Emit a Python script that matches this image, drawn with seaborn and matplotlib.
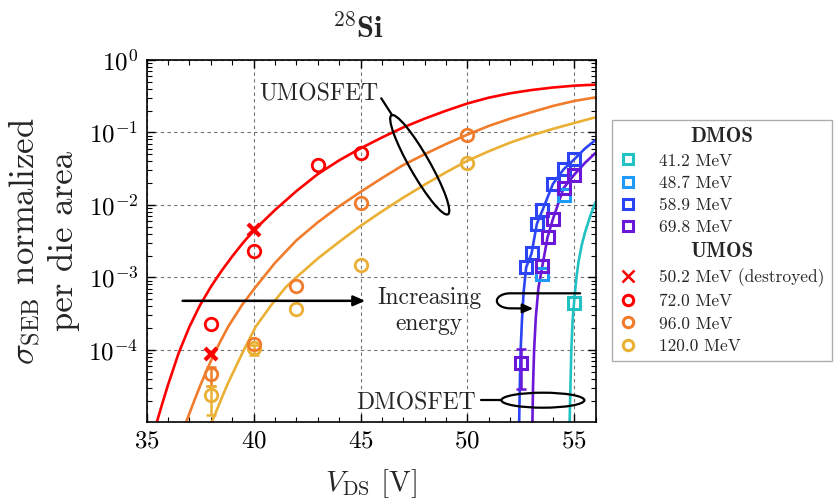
import numpy as np
import pandas as pd
import matplotlib
matplotlib.use("Agg")
import matplotlib.pyplot as plt
import seaborn as sns
from matplotlib.lines import Line2D
from matplotlib.patches import Ellipse, FancyArrowPatch
from matplotlib.path import Path
from matplotlib.transforms import ScaledTranslation, Affine2D
from matplotlib.ticker import LogLocator, MultipleLocator, NullFormatter
from matplotlib.font_manager import FontProperties

# ---------------- data ----------------
# UMOS measurements
u50_x = [38, 40]                      # 50.2 MeV (destroyed)
u50_y = [8.7e-5, 4.5e-3]
u72_x = [38, 40, 43, 45]
u72_y = [2.25e-4, 2.3e-3, 3.5e-2, 5.25e-2]
u96_x = [38, 40, 42, 45, 50]
u96_y = [4.6e-5, 1.2e-4, 7.6e-4, 1.07e-2, 9.2e-2]
u120_x = [38, 40, 42, 45, 50]
u120_y = [2.35e-5, 1.05e-4, 3.7e-4, 1.48e-3, 3.8e-2]
# error bars: x, y, low, high
u96_err_x = [38]
u96_err_y = [4.6e-5]
u96_err_lo = [3.2e-5]
u96_err_hi = [5.8e-5]
u120_err_x = [38, 40]
u120_err_y = [2.35e-5, 1.05e-4]
u120_err_lo = [1.28e-5, 8.5e-5]
u120_err_hi = [3.2e-5, 1.15e-4]

# DMOS measurements
d41_x = [55.0]
d41_y = [4.4e-4]
d48_x = [53.5, 54.5]
d48_y = [1.1e-3, 1.38e-2]
d58_x = [52.75, 53.0, 53.25, 53.5, 54.0, 54.5, 55.0]
d58_y = [1.38e-3, 2.15e-3, 5.5e-3, 8.4e-3, 1.97e-2, 3.1e-2, 4.27e-2]
d69_x = [52.5, 53.5, 53.75, 54.0, 54.5, 55.0]
d69_y = [6.5e-5, 1.42e-3, 3.6e-3, 6.4e-3, 1.71e-2, 2.62e-2]
d69_err_x = [52.5]
d69_err_y = [6.5e-5]
d69_err_lo = [2.85e-5]
d69_err_hi = [1.02e-4]

# fitted curves
fit72_x = [35.47, 35.75, 36.0, 36.5, 37.0, 37.5, 38.0, 38.5, 39.0, 39.5, 40.0, 41, 42,
           43, 44, 45, 46, 47, 48, 49, 50, 51, 52, 53, 54, 55, 56]
fit72_y = [1.0e-5, 1.905e-5, 3.31e-5, 9.12e-5, 2.09e-4, 4.17e-4, 7.41e-4, 1.23e-3,
           1.95e-3, 2.99e-3, 4.42e-3, 8.51e-3, 1.55e-2, 2.66e-2, 4.12e-2, 6.03e-2,
           8.51e-2, 0.1175, 0.155, 0.1995, 0.251, 0.302, 0.347, 0.385, 0.417, 0.442,
           0.457]
fit96_x = [36.84, 37.2, 37.52, 38.17, 38.81, 39.46, 40.1, 41, 42, 43, 44, 45, 46, 47,
           48, 49, 50, 51, 52, 53, 54, 55, 56]
fit96_y = [1.0e-5, 1.905e-5, 3.31e-5, 9.12e-5, 2.09e-4, 4.17e-4, 7.41e-4, 1.585e-3,
           3.24e-3, 5.75e-3, 9.55e-3, 1.51e-2, 2.34e-2, 3.55e-2, 5.01e-2, 6.92e-2,
           9.33e-2, 0.123, 0.155, 0.1905, 0.232, 0.272, 0.305]
fit120_x = [38.04, 38.43, 38.77, 39.48, 40.1, 40.83, 41.52, 42, 43, 44, 45, 46, 47, 48,
            49, 50, 51, 52, 53, 54, 55, 56]
fit120_y = [1.0e-5, 1.905e-5, 3.31e-5, 9.12e-5, 2.09e-4, 4.17e-4, 7.41e-4, 1.0e-3,
            1.82e-3, 3.09e-3, 5.13e-3, 8.13e-3, 1.26e-2, 1.905e-2, 2.82e-2, 4.07e-2,
            5.5e-2, 7.24e-2, 9.12e-2, 0.112, 0.135, 0.162]
fit41_x = [54.78, 54.82, 54.86, 54.92, 55.0, 55.1, 55.2, 55.35, 55.5, 55.75, 56.0]
fit41_y = [1.0e-5, 3.16e-5, 1.0e-4, 2.51e-4, 5.01e-4, 1.0e-3, 1.66e-3, 2.82e-3,
           4.17e-3, 7.08e-3, 1.1e-2]
fit58_x = [52.42, 52.45, 52.49, 52.55, 52.63, 52.75, 53.0, 53.25, 53.5, 54.0, 54.5,
           55.0, 55.5, 56.0]
fit58_y = [1.0e-5, 3.16e-5, 1.0e-4, 2.51e-4, 6.31e-4, 1.38e-3, 2.14e-3, 5.5e-3,
           8.3e-3, 1.95e-2, 3.1e-2, 4.27e-2, 6.0e-2, 7.9e-2]
fit69_x = [53.04, 53.07, 53.12, 53.2, 53.32, 53.5, 53.75, 54.0, 54.5, 55.0, 55.5, 56.0]
fit69_y = [1.0e-5, 3.16e-5, 1.0e-4, 2.82e-4, 7.08e-4, 1.41e-3, 3.6e-3, 6.4e-3,
           1.71e-2, 2.62e-2, 3.8e-2, 5.25e-2]

dmos_labels = ["41.2 MeV", "48.7 MeV", "58.9 MeV", "69.8 MeV"]
umos_labels = ["50.2 MeV (destroyed)", "72.0 MeV", "96.0 MeV", "120.0 MeV"]

# ---------------- style ----------------
C_RED = "#FF0000"
C_ORA = "#F07C2C"
C_YEL = "#EAB034"
C_CYA = "#22C1C3"
C_LBL = "#1E9BFA"
C_BLU = "#2B44F5"
C_PUR = "#6B17D8"

sns.set_theme(style="ticks")
plt.rcParams["font.family"] = "serif"
plt.rcParams["font.serif"] = ["cmr10"]
plt.rcParams["mathtext.fontset"] = "cm"
plt.rcParams["axes.formatter.use_mathtext"] = True
plt.rcParams["axes.unicode_minus"] = False

fig = plt.figure(figsize=(8.35, 4.99), dpi=100)
ax = fig.add_axes([0.1757, 0.1549, 0.5377, 0.7249])

LW = 1.9


def curve(x, y, c):
    sns.lineplot(x=x, y=y, ax=ax, color=c, lw=LW, estimator=None, sort=False, zorder=2)


def pts(x, y, c, m, ms=9, mew=2.0, z=4):
    sns.lineplot(x=x, y=y, ax=ax, color=c, marker=m, linestyle="", mfc="none", mec=c,
                 mew=mew, ms=ms, estimator=None, zorder=z)


def errs(x, y, lo, hi, c):
    y = np.array(y)
    yerr = np.vstack([y - np.array(lo), np.array(hi) - y])
    ax.errorbar(x, y, yerr=yerr, fmt="none", ecolor=c, elinewidth=1.8, capsize=3.5,
                capthick=1.8, zorder=3)


# fit curves
curve(fit72_x, fit72_y, C_RED)
curve(fit96_x, fit96_y, C_ORA)
curve(fit120_x, fit120_y, C_YEL)
curve(fit41_x, fit41_y, C_CYA)
curve(fit58_x, fit58_y, C_BLU)
curve(fit69_x, fit69_y, C_PUR)

# error bars
errs(u96_err_x, u96_err_y, u96_err_lo, u96_err_hi, C_ORA)
errs(u120_err_x, u120_err_y, u120_err_lo, u120_err_hi, C_YEL)
errs(d69_err_x, d69_err_y, d69_err_lo, d69_err_hi, C_PUR)

# markers
pts(u120_x, u120_y, C_YEL, "o")
pts(u96_x, u96_y, C_ORA, "o")
pts(u72_x, u72_y, C_RED, "o")
pts(u50_x, u50_y, C_RED, "x", ms=9, mew=3.0)
pts(d41_x, d41_y, C_CYA, "s", ms=8.5, mew=2.2)
pts(d48_x, d48_y, C_LBL, "s", ms=8.5, mew=2.2)
pts(d58_x, d58_y, C_BLU, "s", ms=8.5, mew=2.2)
pts(d69_x, d69_y, C_PUR, "s", ms=8.5, mew=2.2, z=5)

# axes
ax.set_yscale("log")
ax.set_xlim(35, 56)
ax.set_ylim(1.02e-5, 1.0)
ax.xaxis.set_major_locator(MultipleLocator(5))
ax.xaxis.set_minor_locator(MultipleLocator(1))
ax.yaxis.set_major_locator(LogLocator(base=10, numticks=10))
ax.yaxis.set_minor_locator(LogLocator(base=10, subs=np.arange(2, 10), numticks=20))
ax.yaxis.set_minor_formatter(NullFormatter())
ax.tick_params(which="both", direction="in", top=True, right=True, colors="black",
               labelsize=18)
ax.tick_params(which="major", length=6, width=1.0, pad=6)
ax.tick_params(which="minor", length=3.5, width=0.8)
for s in ax.spines.values():
    s.set_linewidth(1.2)
    s.set_color("black")
ax.grid(True, which="major", color="0.45", ls=(0, (3, 3)), lw=0.8)
ax.set_axisbelow(True)

ax.set_xlabel(r"$V_{\rm DS}$ [V]", fontsize=21, labelpad=11)
ax.set_ylabel("$\\sigma_{\\rm SEB}$ normalized\nper die area", fontsize=25, labelpad=6)
fig.text(358 / 835, 1 - 38 / 499, r"$^{\mathbf{28}}\mathbf{Si}$", fontsize=22,
         ha="center", va="baseline")

# ---------------- annotations ----------------
def anchor(xv, yv):
    return fig.dpi_scale_trans + ScaledTranslation(xv, yv, ax.transData)


T_u = anchor(47.77, 0.0358)
ax.add_artist(Ellipse((0, 0), 1.14, 0.20, angle=-60.3, transform=T_u, fill=False,
                      ec="black", lw=1.6, clip_on=False, zorder=6))
ax.add_artist(Line2D([-0.385, -0.275], [0.665, 0.495], transform=T_u, color="black",
                     lw=1.6, zorder=6))
ax.text(43.06, 0.28, "UMOSFET", fontsize=17, ha="center", va="baseline", zorder=6)

T_d = anchor(53.53, 2.02e-5)
ax.add_artist(Ellipse((0, 0), 0.83, 0.15, angle=0, transform=T_d, fill=False,
                      ec="black", lw=1.6, clip_on=False, zorder=6))
ax.add_artist(Line2D([-0.62, -0.415], [0.0, 0.0], transform=T_d, color="black",
                     lw=1.6, zorder=6))
ax.text(47.6, 1.52e-5, "DMOSFET", fontsize=17, ha="center", va="baseline", zorder=6)

ax.annotate("", xy=(45.22, 4.75e-4), xytext=(36.68, 4.75e-4),
            arrowprops=dict(arrowstyle="-|>,head_length=0.5,head_width=0.22", lw=1.8,
                            color="black", mutation_scale=14, shrinkA=0, shrinkB=0),
            zorder=6)
ax.text(48.21, 4.33e-4, "Increasing", fontsize=17, ha="center", va="baseline", zorder=6)
ax.text(48.21, 1.88e-4, "energy", fontsize=17, ha="center", va="baseline", zorder=6)

T_c = anchor(52.0, 4.75e-4)
th = np.linspace(np.pi / 2, 3 * np.pi / 2, 25)
verts = [(0.70, 0.075), (0.0, 0.075)] + [(0.133 * np.cos(t), 0.075 * np.sin(t)) for t in th] \
        + [(0.23, -0.077)]
codes = [Path.MOVETO] + [Path.LINETO] * (len(verts) - 1)
ax.add_artist(FancyArrowPatch(path=Path(verts, codes), transform=T_c,
                              arrowstyle="-|>,head_length=0.45,head_width=0.2",
                              mutation_scale=14, lw=1.6, color="black", zorder=6))

ax.set_xlim(35, 56)
ax.set_ylim(1.02e-5, 1.0)

# ---------------- legend ----------------
def sq(c):
    return Line2D([], [], ls="none", marker="s", mfc="none", mec=c, mew=2.2, ms=7)


def ci(c):
    return Line2D([], [], ls="none", marker="o", mfc="none", mec=c, mew=2.2, ms=7.5)


blank = Line2D([], [], ls="none", marker="")
handles = [blank, sq(C_CYA), sq(C_LBL), sq(C_BLU), sq(C_PUR),
           blank, Line2D([], [], ls="none", marker="x", color=C_RED, mew=1.8, ms=8),
           ci(C_RED), ci(C_ORA), ci(C_YEL)]
labels = ["DMOS"] + dmos_labels + ["UMOS"] + umos_labels
leg = fig.legend(handles, labels, loc="upper left", bbox_to_anchor=(612 / 835, 1 - 120 / 499),
                 frameon=True, fancybox=False, edgecolor="0.6", fontsize=12.5,
                 labelspacing=0.40, handlelength=1.0, handletextpad=1.3, borderpad=0.42,
                 borderaxespad=0)
leg.get_frame().set_linewidth(1.0)
headers = [leg.get_texts()[0], leg.get_texts()[5]]
for t in headers:
    t.set_fontproperties(FontProperties(family="cmb10", size=15))

fig.canvas.draw()
r = fig.canvas.get_renderer()
fb = leg.get_frame().get_window_extent(r)
for t in headers:
    tb = t.get_window_extent(r)
    dx = (fb.x0 + fb.x1) / 2 - (tb.x0 + tb.x1) / 2
    t.set_transform(t.get_transform() + Affine2D().translate(dx, 0))

fig.savefig("out.png", dpi=100)
